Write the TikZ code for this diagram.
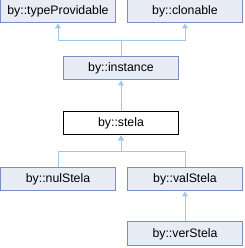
\documentclass[tikz,border=0pt]{standalone}
\usepackage{fontspec}
\setmainfont{Liberation Sans}
\usetikzlibrary{arrows.meta}
\definecolor{boxfill}{HTML}{E8ECF5}
\definecolor{boxline}{HTML}{7A8EC2}
\definecolor{edge}{HTML}{9BCBE8}
\begin{document}
\begin{tikzpicture}[x=1pt,y=1pt,
  cls/.style={draw=boxline,fill=boxfill,line width=1pt,minimum width=115pt,minimum height=23pt,inner sep=0pt,font=\fontsize{12.3}{14}\selectfont},
  cur/.style={cls,draw=black,fill=white},
  inh/.style={draw=edge,line width=1pt,-{Triangle[width=6pt,length=5pt,fill=edge]}}]
\useasboundingbox (0,0) rectangle (244,248);
\node[cls] (tp) at (58,236.5) {by::typeProvidable};
\node[cls] (cl) at (185,236.5) {by::clonable};
\node[cls] (inst) at (121,179.5) {by::instance};
\node[cur] (st) at (121,124.5) {by::stela};
\node[cls] (nul) at (58,68.5) {by::nulStela};
\node[cls] (val) at (185,68.5) {by::valStela};
\node[cls,minimum height=24pt] (ver) at (185,14) {by::verStela};
\draw[inh] (inst.north) -- ++(0,16) -| (tp.south);
\draw[inh] (inst.north) -- ++(0,16) -| (cl.south);
\draw[inh] (st.north) -- (inst.south);
\draw[inh] (nul.north) |- (121,96.5) -- (st.south);
\draw[inh] (val.north) |- (121,96.5) -- (st.south);
\draw[inh] (ver.north) -- (val.south);
\end{tikzpicture}
\end{document}
